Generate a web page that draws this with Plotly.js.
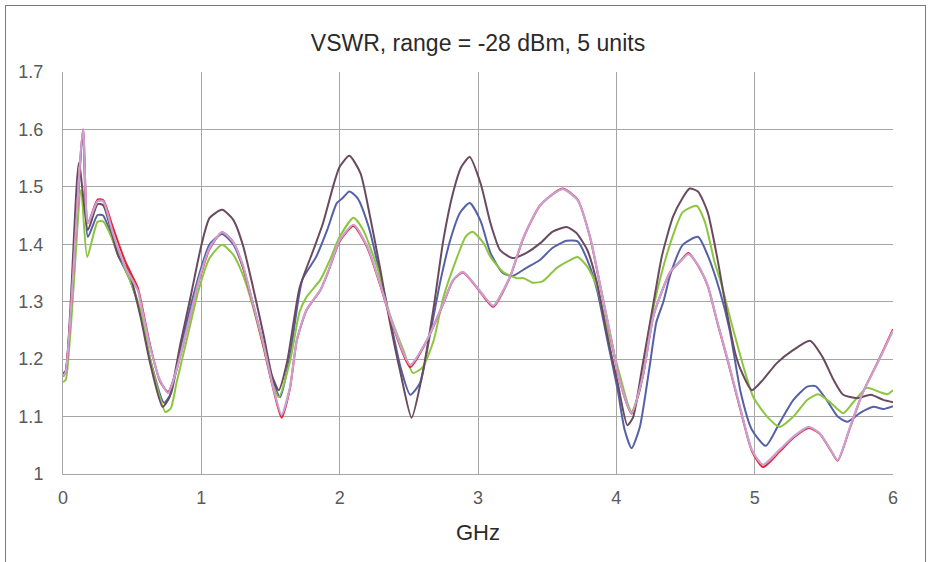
<!DOCTYPE html>
<html>
<head>
<meta charset="utf-8">
<script src="https://cdn.plot.ly/plotly-3.0.1.min.js"></script>
<style>
  html, body { margin: 0; padding: 0; background: #ffffff; overflow: hidden; }
  #frame { position: absolute; left: 5px; top: 5px; width: 919px; height: 620px; border: 1px solid #7a7a7a; }
  #chart { position: absolute; left: 0; top: 0; width: 931px; height: 562px; }
</style>
</head>
<body>
<div id="frame"></div>
<div id="chart"></div>
<script>
// ---- data (GHz vs VSWR) ----
const freqBlue = [0.00,0.02,0.145,0.18,0.25,0.29,0.40,0.48,0.56,0.63,0.73,0.78,0.85,0.92,1.00,1.06,1.15,1.23,1.30,1.37,1.45,1.52,1.57,1.64,1.73,1.83,1.91,1.98,2.02,2.07,2.13,2.21,2.29,2.36,2.44,2.51,2.58,2.65,2.73,2.80,2.87,2.94,3.02,3.09,3.18,3.25,3.35,3.45,3.54,3.64,3.72,3.79,3.86,3.93,4.01,4.06,4.11,4.17,4.24,4.29,4.34,4.39,4.48,4.59,4.66,4.75,4.82,4.90,4.98,5.08,5.18,5.28,5.38,5.44,5.52,5.60,5.67,5.76,5.86,5.93,6.00];
const vswrBlue = [1.17,1.178,1.59,1.413,1.451,1.45,1.38,1.34,1.28,1.20,1.124,1.14,1.22,1.29,1.36,1.40,1.418,1.40,1.36,1.30,1.225,1.16,1.134,1.204,1.338,1.378,1.425,1.472,1.48,1.492,1.48,1.43,1.35,1.274,1.186,1.138,1.158,1.239,1.338,1.408,1.455,1.472,1.44,1.385,1.35,1.345,1.359,1.373,1.394,1.406,1.405,1.373,1.321,1.239,1.146,1.077,1.045,1.082,1.186,1.265,1.30,1.347,1.399,1.413,1.381,1.317,1.25,1.141,1.077,1.049,1.089,1.129,1.152,1.153,1.129,1.10,1.091,1.106,1.117,1.113,1.118];

const freqMaroon = [0.00,0.02,0.115,0.18,0.25,0.29,0.40,0.48,0.56,0.63,0.72,0.77,0.85,0.92,1.00,1.06,1.15,1.23,1.30,1.37,1.45,1.51,1.56,1.62,1.71,1.81,1.88,1.96,2.00,2.07,2.15,2.22,2.29,2.36,2.44,2.52,2.60,2.68,2.75,2.82,2.88,2.94,3.02,3.09,3.16,3.25,3.35,3.45,3.54,3.64,3.71,3.79,3.86,3.93,4.01,4.08,4.12,4.19,4.27,4.33,4.41,4.48,4.53,4.59,4.66,4.73,4.80,4.86,4.90,4.98,5.06,5.16,5.28,5.40,5.49,5.57,5.64,5.74,5.84,5.93,6.00];
const vswrMaroon = [1.175,1.18,1.542,1.425,1.47,1.468,1.38,1.35,1.274,1.193,1.117,1.134,1.228,1.306,1.398,1.446,1.46,1.443,1.399,1.329,1.242,1.172,1.146,1.195,1.324,1.39,1.437,1.507,1.535,1.554,1.524,1.448,1.361,1.268,1.176,1.098,1.176,1.291,1.408,1.49,1.535,1.552,1.505,1.437,1.39,1.376,1.385,1.402,1.422,1.43,1.42,1.39,1.333,1.246,1.158,1.085,1.098,1.19,1.30,1.38,1.448,1.481,1.497,1.492,1.456,1.376,1.28,1.21,1.181,1.146,1.164,1.193,1.216,1.232,1.204,1.164,1.138,1.132,1.138,1.129,1.125];

const freqGreen = [0.00,0.02,0.13,0.175,0.25,0.29,0.42,0.48,0.56,0.63,0.74,0.78,0.82,0.90,0.98,1.06,1.15,1.23,1.30,1.37,1.45,1.51,1.56,1.64,1.71,1.76,1.86,1.93,2.00,2.10,2.17,2.27,2.36,2.46,2.53,2.60,2.68,2.75,2.85,2.91,2.96,3.04,3.09,3.18,3.28,3.33,3.40,3.47,3.57,3.67,3.72,3.79,3.86,3.93,4.01,4.08,4.11,4.17,4.24,4.32,4.41,4.48,4.58,4.64,4.71,4.76,4.84,4.92,4.99,5.09,5.18,5.28,5.38,5.46,5.55,5.64,5.71,5.81,5.90,5.96,6.00];
const vswrGreen = [1.16,1.164,1.495,1.378,1.439,1.44,1.373,1.34,1.285,1.20,1.108,1.115,1.158,1.239,1.32,1.376,1.399,1.382,1.347,1.294,1.219,1.16,1.134,1.195,1.282,1.308,1.338,1.373,1.413,1.446,1.425,1.361,1.28,1.216,1.176,1.186,1.233,1.308,1.378,1.413,1.422,1.402,1.378,1.352,1.341,1.341,1.333,1.336,1.359,1.373,1.378,1.361,1.326,1.256,1.186,1.124,1.108,1.146,1.255,1.343,1.416,1.456,1.467,1.439,1.369,1.33,1.256,1.186,1.134,1.10,1.082,1.10,1.129,1.139,1.124,1.106,1.124,1.15,1.143,1.139,1.146];

const freqRed = [0.00,0.02,0.145,0.18,0.25,0.29,0.36,0.45,0.54,0.56,0.63,0.70,0.76,0.82,0.90,0.97,1.00,1.06,1.15,1.23,1.30,1.37,1.45,1.52,1.58,1.64,1.69,1.76,1.86,1.92,2.00,2.10,2.20,2.29,2.39,2.51,2.63,2.75,2.82,2.89,2.99,3.05,3.11,3.23,3.33,3.45,3.61,3.72,3.81,3.88,3.96,4.03,4.11,4.19,4.27,4.39,4.46,4.52,4.59,4.66,4.73,4.80,4.90,4.98,5.06,5.18,5.28,5.39,5.47,5.55,5.60,5.69,5.78,5.90,6.00];
const vswrRed = [1.17,1.178,1.60,1.437,1.478,1.477,1.43,1.37,1.325,1.305,1.224,1.162,1.143,1.181,1.256,1.326,1.35,1.392,1.421,1.404,1.362,1.298,1.222,1.148,1.098,1.148,1.232,1.285,1.32,1.354,1.405,1.432,1.394,1.331,1.254,1.186,1.232,1.297,1.337,1.351,1.325,1.306,1.291,1.342,1.412,1.468,1.497,1.478,1.412,1.332,1.238,1.157,1.105,1.168,1.277,1.352,1.37,1.385,1.363,1.328,1.264,1.202,1.109,1.04,1.012,1.039,1.063,1.08,1.07,1.041,1.023,1.081,1.141,1.2,1.252];

const freqPink = [0.00,0.02,0.145,0.18,0.25,0.29,0.36,0.45,0.54,0.56,0.63,0.70,0.76,0.82,0.90,0.97,1.00,1.06,1.15,1.23,1.30,1.37,1.45,1.52,1.58,1.64,1.69,1.76,1.86,1.92,2.00,2.10,2.20,2.29,2.39,2.51,2.63,2.75,2.82,2.89,2.99,3.05,3.11,3.23,3.33,3.45,3.61,3.72,3.81,3.88,3.96,4.03,4.11,4.19,4.27,4.39,4.46,4.52,4.59,4.66,4.73,4.80,4.90,4.98,5.06,5.18,5.28,5.39,5.47,5.55,5.60,5.69,5.78,5.90,6.00];
const vswrPink = [1.17,1.178,1.60,1.437,1.475,1.475,1.42,1.36,1.32,1.30,1.221,1.164,1.141,1.181,1.256,1.326,1.352,1.394,1.421,1.404,1.364,1.30,1.225,1.15,1.103,1.15,1.233,1.286,1.32,1.355,1.407,1.434,1.396,1.333,1.256,1.19,1.233,1.298,1.338,1.352,1.326,1.308,1.293,1.343,1.413,1.468,1.496,1.477,1.413,1.333,1.239,1.158,1.106,1.169,1.277,1.352,1.369,1.383,1.364,1.329,1.265,1.204,1.111,1.042,1.016,1.042,1.065,1.082,1.071,1.042,1.024,1.082,1.141,1.199,1.25];

const xTickVals = [0,1,2,3,4,5,6];
const xTickText = ['0','1','2','3','4','5','6'];
const yTickVals = [1,1.1,1.2,1.3,1.4,1.5,1.6,1.7];
const yTickText = ['1','1.1','1.2','1.3','1.4','1.5','1.6','1.7'];

const FONT = 'Liberation Sans, Arial, sans-serif';

function line(x, y, color, width) {
  return { x: x, y: y, type: 'scatter', mode: 'lines', line: { color: color, width: width, shape: 'spline', smoothing: 0.6 }, hoverinfo: 'skip', showlegend: false };
}

const data = [
  line(freqBlue, vswrBlue, '#5561a6', 2),
  line(freqGreen, vswrGreen, '#8cc63e', 2),
  line(freqMaroon, vswrMaroon, '#6a4a5e', 2),
  line(freqRed, vswrRed, '#e8202f', 2),
  line(freqPink, vswrPink, '#c9a0d2', 2.2)
];

const layout = {
  width: 931, height: 562,
  margin: { l: 63, r: 38, t: 72, b: 88 },
  paper_bgcolor: 'rgba(0,0,0,0)',
  plot_bgcolor: '#ffffff',
  showlegend: false,
  title: { text: 'VSWR, range = -28 dBm, 5 units', x: 0.5, xref: 'paper', xanchor: 'center', y: 0.923, yref: 'container', yanchor: 'middle',
           font: { family: FONT, size: 23, color: '#2a2a2a' } },
  xaxis: {
    range: [0, 6], tickmode: 'array', tickvals: xTickVals, ticktext: xTickText,
    showgrid: true, gridcolor: '#a6a6a6', gridwidth: 1,
    showline: true, linecolor: '#a6a6a6', linewidth: 1, mirror: false,
    zeroline: false, ticks: '', ticklabelstandoff: 7,
    tickfont: { family: FONT, size: 18, color: '#5a5a5a' },
    title: { text: 'GHz', standoff: 18, font: { family: FONT, size: 22, color: '#2a2a2a' } }
  },
  yaxis: {
    range: [1, 1.7], tickmode: 'array', tickvals: yTickVals, ticktext: yTickText,
    showgrid: true, gridcolor: '#a6a6a6', gridwidth: 1,
    showline: true, linecolor: '#a6a6a6', linewidth: 1,
    zeroline: false, ticks: '', ticklabelstandoff: 15,
    tickfont: { family: FONT, size: 18, color: '#5a5a5a' }
  }
};

Plotly.newPlot('chart', data, layout, { displayModeBar: false, staticPlot: true });
</script>
</body>
</html>
